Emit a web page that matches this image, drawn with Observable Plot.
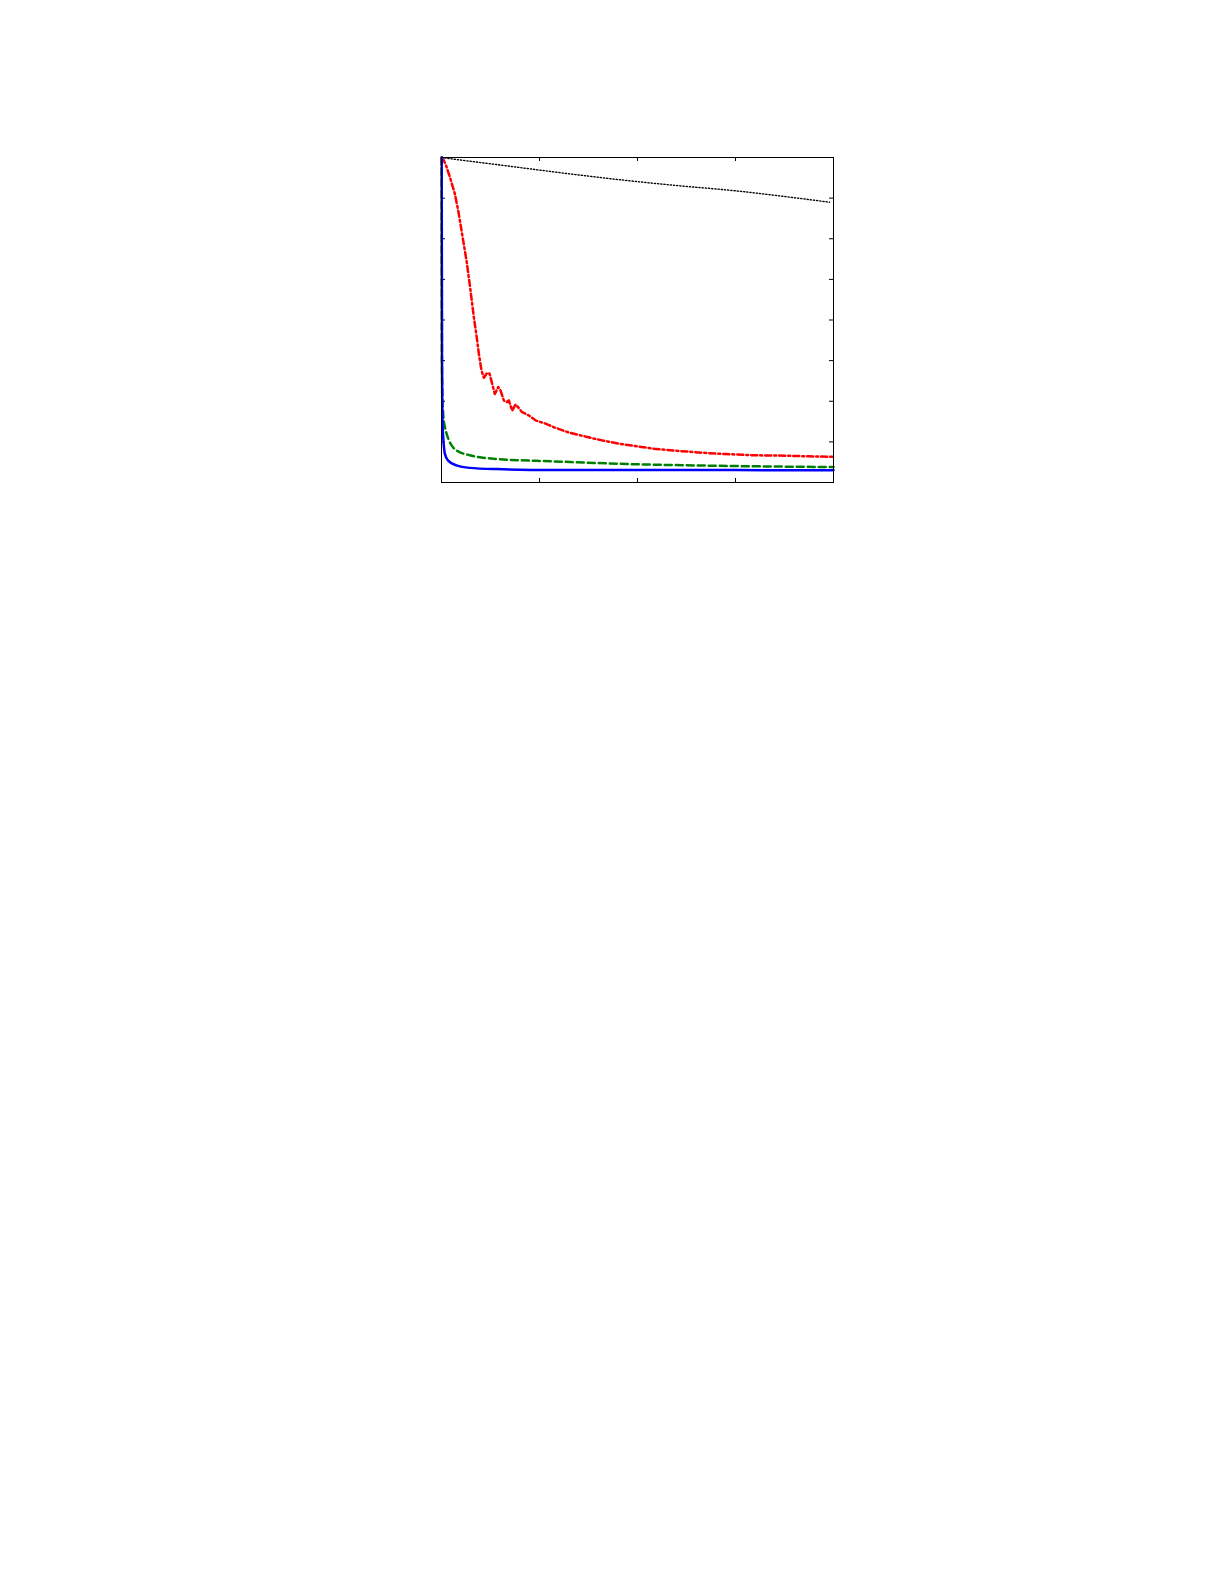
<!DOCTYPE html>
<html>
<head>
<meta charset="utf-8">
<script src="https://cdn.jsdelivr.net/npm/d3@7"></script>
<script src="https://cdn.jsdelivr.net/npm/@observablehq/plot@0.6"></script>
<style>
  html, body { margin: 0; padding: 0; background: #fff; }
  #chart { position: absolute; left: 0; top: 0; }
</style>
</head>
<body>
<div id="chart"></div>
<script>
// Tick positions (no labels in the reference)
const xTicks = [0, 1, 2, 3, 4];
const yTicks = [0, 1, 2, 3, 4, 5, 6, 7, 8];

// Series
const blackX = [0, 0.22, 0.55, 0.97, 1.4, 1.83, 2.4, 3.0, 3.5, 3.96];
const blackY = [8, 7.93, 7.83, 7.7, 7.57, 7.45, 7.31, 7.18, 7.04, 6.9];

const redX = [0.005, 0.017, 0.05, 0.085, 0.136, 0.17, 0.204, 0.238, 0.255, 0.296, 0.33, 0.364, 0.381, 0.408, 0.432, 0.466, 0.49, 0.517, 0.544, 0.579, 0.602, 0.636, 0.67, 0.687, 0.721, 0.755, 0.783, 0.823, 0.891, 0.959, 1.061, 1.146, 1.3, 1.487, 1.65, 1.827, 2.0, 2.166, 2.4, 2.677, 2.9, 3.187, 3.5, 3.75, 4.0];
const redY = [8.0, 7.96, 7.78, 7.52, 7.11, 6.7, 6.21, 5.71, 5.47, 4.73, 4.07, 3.5, 3.17, 2.76, 2.58, 2.7, 2.68, 2.43, 2.18, 2.35, 2.27, 2.02, 1.98, 2.02, 1.77, 1.92, 1.85, 1.73, 1.65, 1.53, 1.45, 1.36, 1.23, 1.12, 1.03, 0.95, 0.89, 0.83, 0.78, 0.73, 0.7, 0.67, 0.66, 0.645, 0.63];

const greenX = [0.002, 0.005, 0.01, 0.015, 0.023, 0.035, 0.051, 0.085, 0.153, 0.289, 0.561, 1.146, 1.827, 2.847, 4.0];
const greenY = [8.0, 3.0, 2.1, 1.77, 1.53, 1.36, 1.21, 0.99, 0.79, 0.67, 0.58, 0.52, 0.46, 0.41, 0.38];

const blueX = [0.002, 0.005, 0.008, 0.013, 0.017, 0.025, 0.034, 0.068, 0.153, 0.289, 0.561, 1.14, 1.83, 3.0, 4.0];
const blueY = [8.0, 3.0, 1.8, 1.3, 1.12, 0.88, 0.71, 0.54, 0.42, 0.36, 0.33, 0.31, 0.31, 0.305, 0.3];

const toRows = (xs, ys) => xs.map((x, i) => ({x, y: ys[i]}));
const black = toRows(blackX, blackY);
const red = toRows(redX, redY);
const green = toRows(greenX, greenY);
const blue = toRows(blueX, blueY);

const W = 1225, H = 600;
const mL = 441, mR = W - 833, mT = 157, mB = H - 482;
const innerH = H - mT - mB;
const innerW = W - mL - mR;
const tk = 4;

const chart = Plot.plot({
  width: W,
  height: H,
  marginLeft: mL,
  marginRight: mR,
  marginTop: mT,
  marginBottom: mB,
  style: {background: "white"},
  x: {domain: [0, 4], axis: null},
  y: {domain: [0, 8], axis: null},
  marks: [
    // inward ticks on all four sides
    Plot.tickX(xTicks, {x: d => d, stroke: "black", strokeWidth: 1, insetTop: innerH - tk}),
    Plot.tickX(xTicks, {x: d => d, stroke: "black", strokeWidth: 1, insetBottom: innerH - tk}),
    Plot.tickY(yTicks, {y: d => d, stroke: "black", strokeWidth: 1, insetRight: innerW - tk}),
    Plot.tickY(yTicks, {y: d => d, stroke: "black", strokeWidth: 1, insetLeft: innerW - tk}),
    Plot.line(black, {x: "x", y: "y", stroke: "black", strokeWidth: 1.4, strokeDasharray: "1.2,2", curve: "monotone-x"}),
    Plot.line(red, {x: "x", y: "y", stroke: "#ff0000", strokeWidth: 2.5, strokeDasharray: "6,3,2,3", curve: "linear"}),
    Plot.line(green, {x: "x", y: "y", stroke: "#008000", strokeWidth: 2.5, strokeDasharray: "7,4", curve: "monotone-x"}),
    Plot.line(blue, {x: "x", y: "y", stroke: "#0000ff", strokeWidth: 2.5, curve: "monotone-x"}),
    Plot.frame({stroke: "black", strokeWidth: 1})
  ]
});
document.getElementById("chart").appendChild(chart);
</script>
</body>
</html>
